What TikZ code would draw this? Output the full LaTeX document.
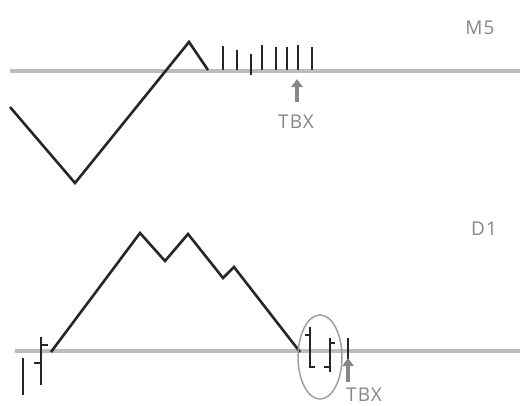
\documentclass[tikz,border=0pt]{standalone}
\usepackage{fontspec}
\setmainfont{Open Sans}
\newfontfamily\tagfont[LetterSpace=6]{Open Sans}
\usetikzlibrary{arrows.meta}
\definecolor{axisgray}{RGB}{188,188,188}
\definecolor{labelgray}{RGB}{135,135,135}
\definecolor{pricecol}{RGB}{38,38,38}

\begin{document}
\begin{tikzpicture}[x=1pt,y=-1pt,
  axis/.style={axisgray,line width=4.5pt},
  price/.style={pricecol,line width=2.6pt},
  bar/.style={pricecol,line width=2.6pt},
  tag/.style={labelgray,font=\tagfont\fontsize{19}{22}\selectfont,inner sep=0pt,text depth=0pt,anchor=base},
  tbxarrow/.style={labelgray,line width=3.5pt,-{Triangle[length=8pt,width=11pt]}},
  focus/.style={labelgray!80,line width=1.5pt}]
  \useasboundingbox (0,0) rectangle (522,405);

  % upper panel
  \draw[axis] (10,71) -- (520,71);
  \draw[price] (10,107) -- (75,183) -- (189,42) -- (208,70);
  \foreach \x/\top/\bot in {223/46/70,237/50/70,251/54/75,262/45/70,276/47/70,287/47/70,298/45/70,312/47/70}
    \draw[bar] (\x,\top) -- (\x,\bot);
  \node[tag] (m5) at (480,34) {M5};
  \node[tag] (tbxa) at (296,128) {TBX};
  \coordinate (tipa) at (297,79);
  \draw[tbxarrow] ([shift={(1pt,26pt)}]tbxa.base) -- (tipa);

  % lower panel
  \draw[axis] (15,351) -- (520,351);
  \draw[price] (51,352) -- (140,233) -- (165,261) -- (188,234) -- (223,278) -- (234,267) -- (300,352);
  \draw[bar] (23,358) -- (23,395);
  \draw[bar] (34,363) -- (41,363) (41,337) -- (41,385) (41,345) -- (48,345);
  \draw[bar] (305,335) -- (310,335) (310,327) -- (310,368) (310,367) -- (315,367);
  \draw[bar] (324,367) -- (330,367) (330,338) -- (330,372) (330,343) -- (335,343);
  \draw[bar] (348,338) -- (348,360);
  \draw[focus] (320,357) ellipse [x radius=22, y radius=42];
  \node[tag] (d1) at (484,235) {D1};
  \node[tag] (tbxb) at (364,401) {TBX};
  \coordinate (tipb) at (348,358);
  \draw[tbxarrow] ([shift={(-16pt,19pt)}]tbxb.base) -- (tipb);
\end{tikzpicture}
\end{document}
